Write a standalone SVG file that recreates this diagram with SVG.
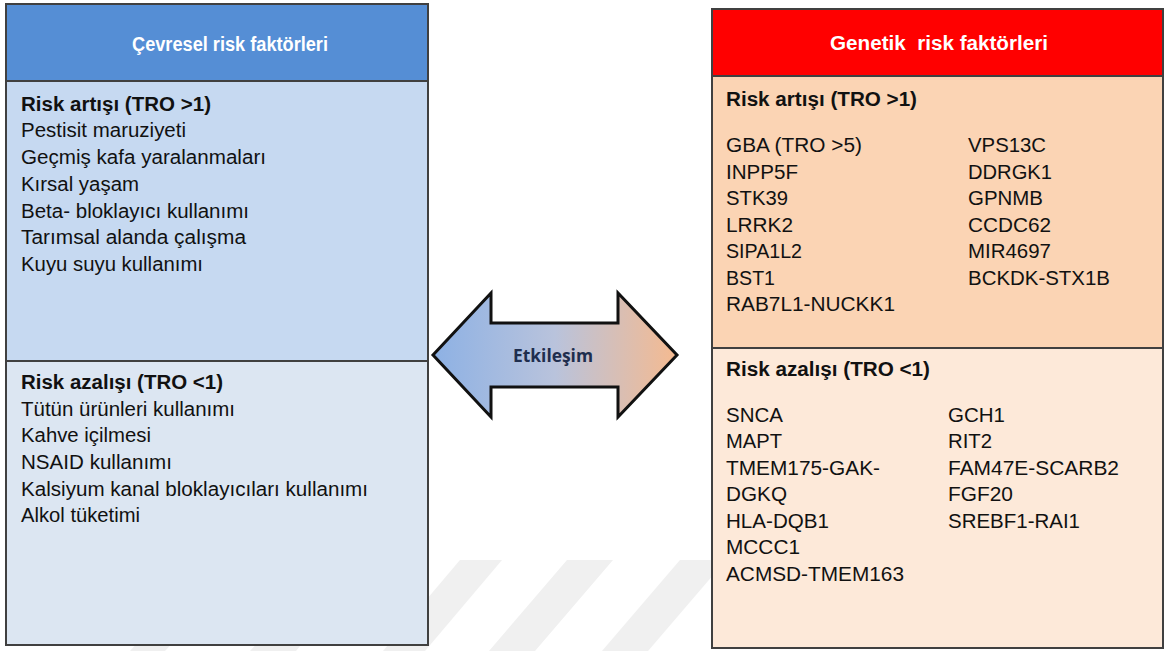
<svg xmlns="http://www.w3.org/2000/svg" width="1166" height="651" viewBox="0 0 1166 651">
<defs>
<linearGradient id="arrowGrad" x1="0" y1="0" x2="1" y2="0">
<stop offset="0" stop-color="#8DB1E4"/>
<stop offset="0.5" stop-color="#B9C3DC"/>
<stop offset="1" stop-color="#F5BA90"/>
</linearGradient>
</defs>
<style>
.box{stroke:#404040;stroke-width:2}
.hdr{font-family:"Liberation Sans",Arial,sans-serif;font-weight:bold;font-size:20px;fill:#ffffff}
.t{font-family:"Liberation Sans",Arial,sans-serif;font-size:20px;fill:#111111}
.b{font-weight:bold}
.wm{fill:#F0F0F0}
</style>
<rect x="0" y="0" width="1166" height="651" fill="#ffffff"/>
<g id="watermark">
<polygon class="wm" points="460,560 502,560 425,651 383,651"/>
<polygon class="wm" points="567,560 613,560 535,651 489,651"/>
<polygon class="wm" points="680,560 726,560 648,651 602,651"/>
<polygon class="wm" points="140,640 175,640 165,651 130,651"/>
<polygon class="wm" points="260,640 305,640 296,651 250,651"/>
</g>
<g id="environmental">
<rect class="box" x="6" y="4" width="422" height="77" fill="#558ED5"/>
<rect class="box" x="6" y="81" width="422" height="280" fill="#C6D9F1"/>
<rect class="box" x="6" y="361" width="422" height="284" fill="#DCE6F2"/>
<text class="hdr" x="132" y="51" textLength="196" lengthAdjust="spacingAndGlyphs">Çevresel risk faktörleri</text>
<text class="t b" x="21" y="111" textLength="190" lengthAdjust="spacingAndGlyphs">Risk artışı (TRO &gt;1)</text>
<text class="t" x="21" y="137" textLength="165" lengthAdjust="spacingAndGlyphs">Pestisit maruziyeti</text>
<text class="t" x="21" y="164" textLength="245" lengthAdjust="spacingAndGlyphs">Geçmiş kafa yaralanmaları</text>
<text class="t" x="21" y="191" textLength="118" lengthAdjust="spacingAndGlyphs">Kırsal yaşam</text>
<text class="t" x="21" y="218" textLength="228" lengthAdjust="spacingAndGlyphs">Beta- bloklayıcı kullanımı</text>
<text class="t" x="21" y="244" textLength="225" lengthAdjust="spacingAndGlyphs">Tarımsal alanda çalışma</text>
<text class="t" x="21" y="271" textLength="182" lengthAdjust="spacingAndGlyphs">Kuyu suyu kullanımı</text>
<text class="t b" x="21" y="389" textLength="202" lengthAdjust="spacingAndGlyphs">Risk azalışı (TRO &lt;1)</text>
<text class="t" x="21" y="416" textLength="214" lengthAdjust="spacingAndGlyphs">Tütün ürünleri kullanımı</text>
<text class="t" x="21" y="442" textLength="130" lengthAdjust="spacingAndGlyphs">Kahve içilmesi</text>
<text class="t" x="21" y="469" textLength="151" lengthAdjust="spacingAndGlyphs">NSAID kullanımı</text>
<text class="t" x="21" y="496" textLength="347" lengthAdjust="spacingAndGlyphs">Kalsiyum kanal bloklayıcıları kullanımı</text>
<text class="t" x="21" y="522" textLength="119" lengthAdjust="spacingAndGlyphs">Alkol tüketimi</text>
</g>
<g id="genetic">
<rect class="box" x="712" y="9" width="451" height="67" fill="#FF0000"/>
<rect class="box" x="712" y="76" width="451" height="272" fill="#FBD4B4"/>
<rect class="box" x="712" y="348" width="451" height="300" fill="#FDE9D9"/>
<text class="hdr" x="830" y="50" textLength="218" lengthAdjust="spacingAndGlyphs" xml:space="preserve">Genetik  risk faktörleri</text>
<text class="t b" x="726" y="106" textLength="191" lengthAdjust="spacingAndGlyphs">Risk artışı (TRO &gt;1)</text>
<text class="t" x="726" y="152" textLength="136" lengthAdjust="spacingAndGlyphs">GBA (TRO &gt;5)</text>
<text class="t" x="726" y="179" textLength="72" lengthAdjust="spacingAndGlyphs">INPP5F</text>
<text class="t" x="726" y="205" textLength="62" lengthAdjust="spacingAndGlyphs">STK39</text>
<text class="t" x="726" y="232" textLength="67" lengthAdjust="spacingAndGlyphs">LRRK2</text>
<text class="t" x="726" y="258" textLength="76" lengthAdjust="spacingAndGlyphs">SIPA1L2</text>
<text class="t" x="726" y="285" textLength="49" lengthAdjust="spacingAndGlyphs">BST1</text>
<text class="t" x="726" y="311" textLength="169" lengthAdjust="spacingAndGlyphs">RAB7L1-NUCKK1</text>
<text class="t" x="968" y="152" textLength="78" lengthAdjust="spacingAndGlyphs">VPS13C</text>
<text class="t" x="968" y="179" textLength="84" lengthAdjust="spacingAndGlyphs">DDRGK1</text>
<text class="t" x="968" y="205" textLength="75" lengthAdjust="spacingAndGlyphs">GPNMB</text>
<text class="t" x="968" y="232" textLength="83" lengthAdjust="spacingAndGlyphs">CCDC62</text>
<text class="t" x="968" y="258" textLength="83" lengthAdjust="spacingAndGlyphs">MIR4697</text>
<text class="t" x="968" y="285" textLength="142" lengthAdjust="spacingAndGlyphs">BCKDK-STX1B</text>
<text class="t b" x="726" y="376" textLength="204" lengthAdjust="spacingAndGlyphs">Risk azalışı (TRO &lt;1)</text>
<text class="t" x="726" y="422" textLength="57" lengthAdjust="spacingAndGlyphs">SNCA</text>
<text class="t" x="726" y="448" textLength="56" lengthAdjust="spacingAndGlyphs">MAPT</text>
<text class="t" x="726" y="475" textLength="154" lengthAdjust="spacingAndGlyphs">TMEM175-GAK-</text>
<text class="t" x="726" y="501" textLength="61" lengthAdjust="spacingAndGlyphs">DGKQ</text>
<text class="t" x="726" y="528" textLength="103" lengthAdjust="spacingAndGlyphs">HLA-DQB1</text>
<text class="t" x="726" y="554" textLength="74" lengthAdjust="spacingAndGlyphs">MCCC1</text>
<text class="t" x="726" y="581" textLength="178" lengthAdjust="spacingAndGlyphs">ACMSD-TMEM163</text>
<text class="t" x="948" y="422" textLength="57" lengthAdjust="spacingAndGlyphs">GCH1</text>
<text class="t" x="948" y="448" textLength="44" lengthAdjust="spacingAndGlyphs">RIT2</text>
<text class="t" x="948" y="475" textLength="171" lengthAdjust="spacingAndGlyphs">FAM47E-SCARB2</text>
<text class="t" x="948" y="501" textLength="65" lengthAdjust="spacingAndGlyphs">FGF20</text>
<text class="t" x="948" y="528" textLength="132" lengthAdjust="spacingAndGlyphs">SREBF1-RAI1</text>
</g>
<g id="connectors">
<polygon points="433,355 491,293 491,323 618,323 618,293 677,355 618,417 618,387 491,387 491,417" fill="url(#arrowGrad)" stroke="#111111" stroke-width="3" stroke-linejoin="miter"/>
<text x="553" y="362" text-anchor="middle" font-family="'Open Sans','Liberation Sans',sans-serif" font-weight="bold" font-size="17" fill="#1F2E4E" textLength="80" lengthAdjust="spacingAndGlyphs">Etkileşim</text>
</g>
</svg>
